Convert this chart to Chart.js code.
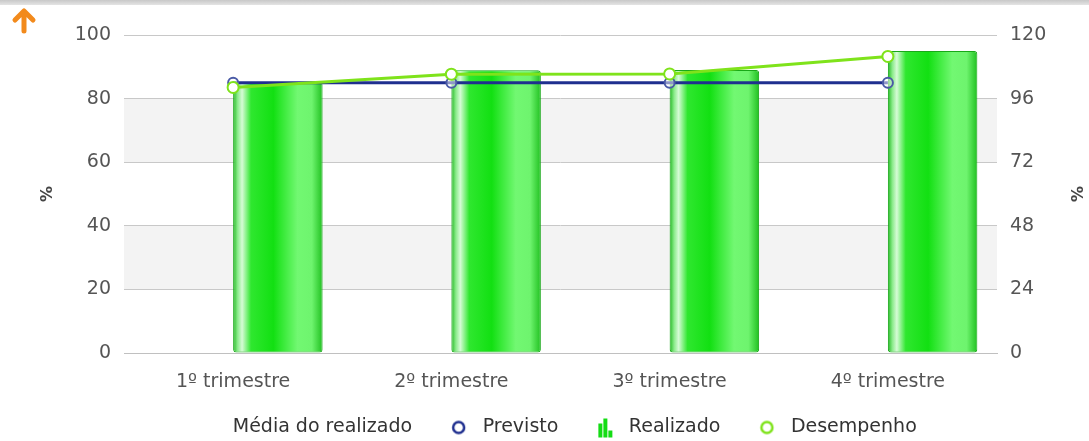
<!DOCTYPE html>
<html>
<head>
<meta charset="utf-8">
<script src="https://cdn.jsdelivr.net/npm/chart.js@4"></script>
<style>
html, body { margin: 0; padding: 0; background: #fff; overflow: hidden; }
#wrap { position: relative; width: 1089px; height: 447px; }
</style>
</head>
<body>
<div id="wrap"><canvas id="chart"></canvas></div>
<script>
// dados
const categorias = ["1º trimestre", "2º trimestre", "3º trimestre", "4º trimestre"];
const previsto = [85, 85, 85, 85];
const realizado = [85.2, 88.9, 89.0, 95.0];
const desempenho = [100.2, 105.2, 105.3, 111.9];
const ticksEsquerda = [0, 20, 40, 60, 80, 100];
const ticksDireita = [0, 24, 48, 72, 96, 120];

const fonte = "'DejaVu Sans', Verdana, sans-serif";
const larguraCategoria = 0.82;

// icones da legenda
function icone(desenho) {
    const c = document.createElement("canvas");
    c.width = 31;
    c.height = 22;
    const g = c.getContext("2d");
    if (desenho) desenho(g);
    return c;
}
function anel(cor) {
    return function (g) {
        g.beginPath();
        g.arc(16.5, 11, 5.5, 0, Math.PI * 2);
        g.fillStyle = "#fff";
        g.fill();
        g.lineWidth = 2.5;
        g.strokeStyle = cor;
        g.stroke();
    };
}
const icones = [
    icone(null),
    icone(anel("#1f2f8f")),
    icone(function (g) {
        g.fillStyle = "#14dc14";
        g.fillRect(10, 7, 4, 14);
        g.fillRect(15, 2, 4, 19);
        g.fillRect(20, 14, 4, 7);
    }),
    icone(anel("#7fe31b"))
];

// gradiente cilindrico das colunas
function gradienteBarra(ctx) {
    const chart = ctx.chart;
    if (!chart.chartArea || ctx.dataIndex === undefined) return "#1ee51e";
    const xs = chart.scales.x;
    const cat = xs.width / categorias.length;
    const cx = xs.getPixelForValue(ctx.dataIndex);
    const esq = cx;
    const dir = cx + cat * larguraCategoria / 2;
    const g = chart.ctx.createLinearGradient(esq, 0, dir, 0);
    g.addColorStop(0, "#22b822");
    g.addColorStop(0.05, "#8aeb8a");
    g.addColorStop(0.1, "#d6fbd6");
    g.addColorStop(0.2, "#2fe72f");
    g.addColorStop(0.45, "#12e012");
    g.addColorStop(0.72, "#72f872");
    g.addColorStop(0.88, "#6ef46e");
    g.addColorStop(1, "#20c020");
    return g;
}

// faixas, seta e barra superior
const fundo = {
    id: "fundo",
    beforeDraw(chart) {
        const c = chart.ctx;
        const a = chart.chartArea;
        const y = chart.scales.y;
        c.save();
        const t = c.createLinearGradient(0, 0, 0, 5);
        t.addColorStop(0, "#c8c8c8");
        t.addColorStop(1, "#e4e4e4");
        c.fillStyle = t;
        c.fillRect(0, 0, chart.width, 5);

        c.fillStyle = "#f3f3f3";
        [[60, 80], [20, 40]].forEach(function (f) {
            const y1 = y.getPixelForValue(f[1]);
            const y0 = y.getPixelForValue(f[0]);
            c.fillRect(a.left, y1, a.right - a.left, y0 - y1);
        });

        c.strokeStyle = "#f28a1c";
        c.lineWidth = 5;
        c.lineCap = "round";
        c.lineJoin = "round";
        c.beginPath();
        c.moveTo(24, 12);
        c.lineTo(24, 31);
        c.moveTo(15, 20);
        c.lineTo(24, 11);
        c.lineTo(33, 20);
        c.stroke();
        c.restore();
    }
};

const ctx = document.getElementById("chart").getContext("2d");

new Chart(ctx, {
    type: "bar",
    data: {
        labels: categorias,
        datasets: [
            {
                label: "Média do realizado",
                data: categorias.map(() => null),
                backgroundColor: "#1ee51e",
                order: 2
            },
            {
                type: "line",
                label: "Previsto",
                data: previsto,
                borderColor: "#1f2f8f",
                borderWidth: 3,
                pointRadius: 5,
                pointBorderWidth: 2,
                pointBorderColor: "#4a5aa6",
                pointBackgroundColor: "rgba(255,255,255,0.5)",
                yAxisID: "y",
                order: 1
            },
            {
                label: "Realizado",
                data: realizado,
                backgroundColor: gradienteBarra,
                borderColor: "#18a818",
                borderWidth: 1,
                borderSkipped: false,
                borderRadius: 3,
                yAxisID: "y",
                order: 3
            },
            {
                type: "line",
                label: "Desempenho",
                data: desempenho,
                borderColor: "#7fe31b",
                borderWidth: 3,
                pointRadius: 5.5,
                pointBorderWidth: 2,
                pointBorderColor: "#7fe31b",
                pointBackgroundColor: "#ffffff",
                yAxisID: "y1",
                order: 0
            }
        ]
    },
    options: {
        responsive: true,
        maintainAspectRatio: false,
        animation: false,
        categoryPercentage: larguraCategoria,
        barPercentage: 1,
        layout: { padding: { top: 35, left: 20, right: 0, bottom: 0 } },
        plugins: {
            tooltip: { enabled: false },
            legend: {
                position: "bottom",
                labels: {
                    usePointStyle: true,
                    pointStyleWidth: 31,
                    padding: 30,
                    color: "#333",
                    font: { family: fonte, size: 19 },
                    generateLabels(chart) {
                        const itens = Chart.defaults.plugins.legend.labels.generateLabels(chart);
                        itens.sort((a, b) => a.datasetIndex - b.datasetIndex);
                        itens.forEach(function (it) {
                            it.pointStyle = icones[it.datasetIndex];
                        });
                        return itens;
                    }
                }
            }
        },
        scales: {
            x: {
                grid: { display: false },
                border: { display: true, color: "#c0c0c0" },
                ticks: { color: "#555", padding: 10, font: { family: fonte, size: 19 } },
                afterFit(s) { s.height = 35; }
            },
            y: {
                position: "left",
                min: ticksEsquerda[0],
                max: ticksEsquerda[ticksEsquerda.length - 1],
                ticks: {
                    stepSize: ticksEsquerda[1] - ticksEsquerda[0],
                    color: "#555",
                    padding: 13,
                    font: { family: fonte, size: 19 }
                },
                grid: { color: "#c8c8c8", drawTicks: false },
                border: { display: false },
                title: {
                    display: true,
                    text: "%",
                    color: "#444",
                    font: { family: fonte, size: 16, weight: "bold" },
                    padding: { top: 18, bottom: 0 }
                },
                afterFit(s) { s.width = 104; }
            },
            y1: {
                position: "right",
                min: ticksDireita[0],
                max: ticksDireita[ticksDireita.length - 1],
                ticks: {
                    stepSize: ticksDireita[1] - ticksDireita[0],
                    color: "#555",
                    padding: 13,
                    font: { family: fonte, size: 19 }
                },
                grid: { display: false, drawTicks: false },
                border: { display: false },
                title: {
                    display: true,
                    text: "%",
                    color: "#444",
                    font: { family: fonte, size: 16, weight: "bold" },
                    padding: { top: 4, bottom: 0 }
                },
                afterFit(s) { s.width = 92; }
            }
        }
    },
    plugins: [fundo]
});
</script>
</body>
</html>
